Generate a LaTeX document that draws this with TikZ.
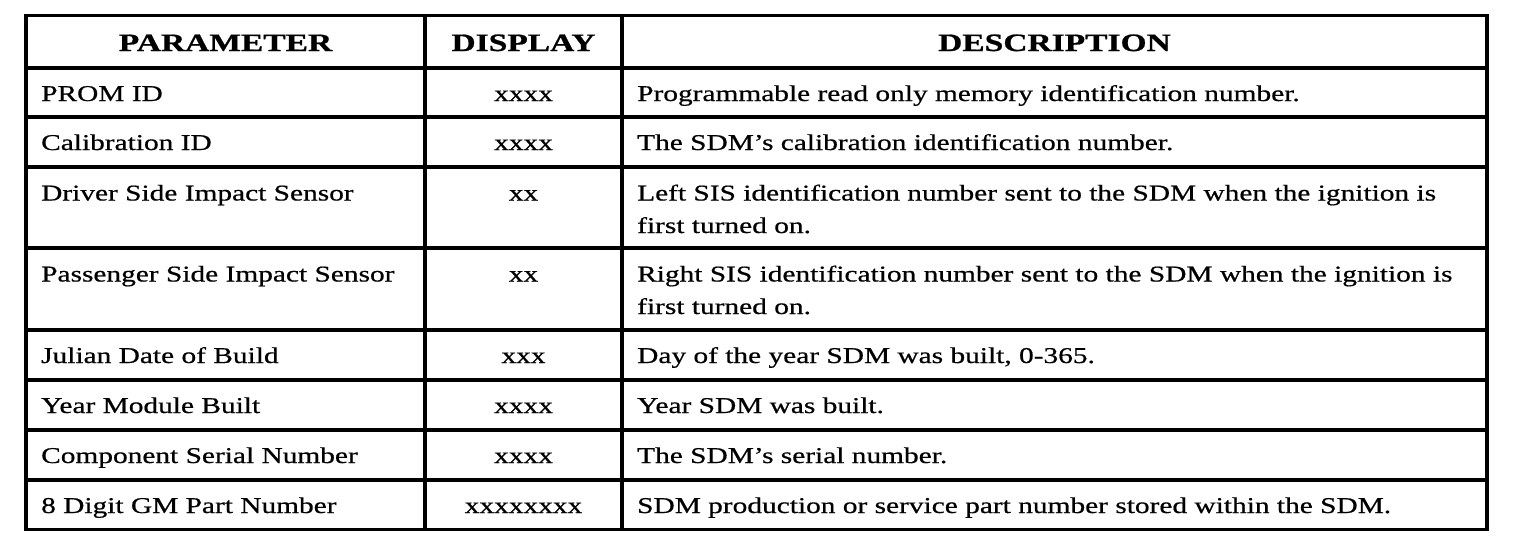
\documentclass[tikz,border=0pt]{standalone}
\usepackage{fontspec}
\setmainfont[FakeStretch=1.3,FakeBold=0.6]{Liberation Serif}
\newfontfamily\hdfont[FakeStretch=1.34,FakeBold=0.8]{Liberation Serif Bold}
\begin{document}
\begin{tikzpicture}[x=1pt,y=-1pt,
  rule/.style={line width=3.5pt,line cap=rect},
  cell/.style={inner sep=0pt,anchor=base west,font=\fontsize{22.6}{22.6}\selectfont},
  mid/.style={inner sep=0pt,anchor=base,font=\fontsize{22.6}{22.6}\selectfont},
  head/.style={inner sep=0pt,anchor=base,font=\fontsize{25}{25}\hdfont}]
\useasboundingbox (0,0) rectangle (1520,558);
% grid
\draw[rule] (26,15.5) rectangle (1487,529.5);
\foreach \y in {68,117,167,248,330,380,430,480}
  \draw[rule] (26,\y) -- (1487,\y);
\draw[rule] (425,15.5) -- (425,529.5);
\draw[rule] (622,15.5) -- (622,529.5);
% header
\node[head] (h1) at (225.5,51) {PARAMETER};
\node[head] (h2) at (523.5,51) {DISPLAY};
\node[head] (h3) at (1054.5,51) {DESCRIPTION};
% rows
\node[cell] (p1) at (41,101) {PROM ID};
\node[mid]  (d1) at (523.5,101) {xxxx};
\node[cell] (e1) at (637,101) {Programmable read only memory identification number.};
\node[cell] (p2) at (41,150) {Calibration ID};
\node[mid]  (d2) at (523.5,150) {xxxx};
\node[cell] (e2) at (637,150) {The SDM’s calibration identification number.};
\node[cell] (p3) at (41,200.5) {Driver Side Impact Sensor};
\node[mid]  (d3) at (523.5,200.5) {xx};
\node[cell] (e3) at (637,200.5) {Left SIS identification number sent to the SDM when the ignition is};
\node[cell] (e3b) at (637,233) {first turned on.};
\node[cell] (p4) at (41,281.5) {Passenger Side Impact Sensor};
\node[mid]  (d4) at (523.5,281.5) {xx};
\node[cell] (e4) at (637,281.5) {Right SIS identification number sent to the SDM when the ignition is};
\node[cell] (e4b) at (637,314) {first turned on.};
\node[cell] (p5) at (41,363) {Julian Date of Build};
\node[mid]  (d5) at (523.5,363) {xxx};
\node[cell] (e5) at (637,363) {Day of the year SDM was built, 0-365.};
\node[cell] (p6) at (41,413) {Year Module Built};
\node[mid]  (d6) at (523.5,413) {xxxx};
\node[cell] (e6) at (637,413) {Year SDM was built.};
\node[cell] (p7) at (41,463) {Component Serial Number};
\node[mid]  (d7) at (523.5,463) {xxxx};
\node[cell] (e7) at (637,463) {The SDM’s serial number.};
\node[cell] (p8) at (41,513) {8 Digit GM Part Number};
\node[mid]  (d8) at (523.5,513) {xxxxxxxx};
\node[cell] (e8) at (637,513) {SDM production or service part number stored within the SDM.};
\end{tikzpicture}
\end{document}
